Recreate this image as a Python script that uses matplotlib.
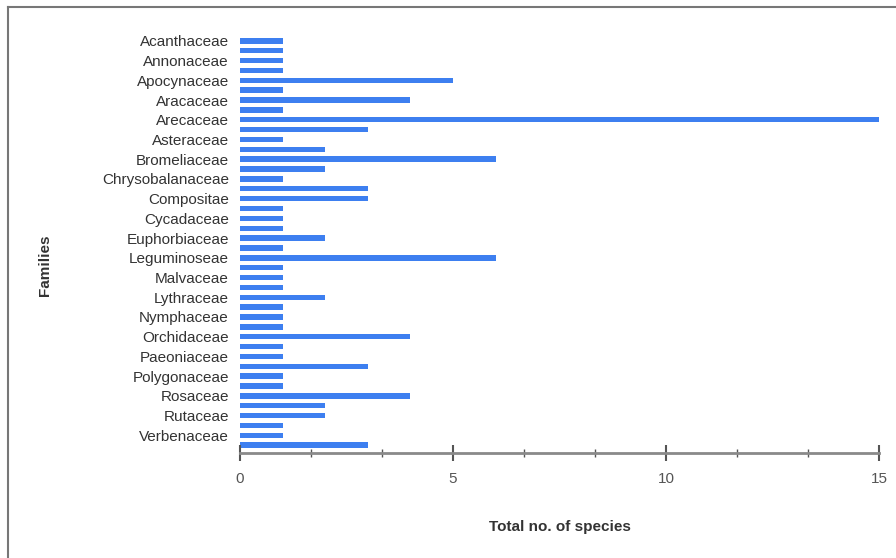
import matplotlib.pyplot as plt
from matplotlib.lines import Line2D
from matplotlib.ticker import MultipleLocator

# only every second family is labelled on the axis
FAMILIES = [
    "Acanthaceae", "Annonaceae", "Apocynaceae", "Aracaceae", "Arecaceae",
    "Asteraceae", "Bromeliaceae", "Chrysobalanaceae", "Compositae",
    "Cycadaceae", "Euphorbiaceae", "Leguminoseae", "Malvaceae", "Lythraceae",
    "Nymphaceae", "Orchidaceae", "Paeoniaceae", "Polygonaceae", "Rosaceae",
    "Rutaceae", "Verbenaceae",
]
SPECIES = [
    1, 1, 1, 1, 5, 1, 4, 1, 15, 3, 1, 2, 6, 2, 1, 3, 3, 1, 1, 1, 2,
    1, 6, 1, 1, 1, 2, 1, 1, 1, 4, 1, 1, 3, 1, 1, 4, 2, 2, 1, 1, 3,
]
XTICKS = [0, 5, 10, 15]

plt.rcParams["font.family"] = ["Liberation Sans", "DejaVu Sans"]

fig = plt.figure(figsize=(8.96, 5.58), dpi=100)
W, H = 896, 558
ax = fig.add_axes([240 / W, 1 - 453 / H, (879 - 240) / W, (453 - 33) / H])

pos = list(range(len(SPECIES)))
ax.barh(pos, SPECIES, height=0.55, color="#3d7ff0")
ax.set_ylim(len(SPECIES) - 1 + 0.8, -0.8)
ax.set_xlim(0, 15)

for side in ["top", "right", "left"]:
    ax.spines[side].set_visible(False)
ax.spines["bottom"].set_color("#8a8a8a")
ax.spines["bottom"].set_linewidth(2)

ax.set_yticks(pos[::2], FAMILIES)
ax.tick_params(axis="y", length=0, pad=8, labelsize=11, labelcolor="#333333")

ax.set_xticks(XTICKS, [str(t) for t in XTICKS])
ax.xaxis.set_minor_locator(MultipleLocator(5 / 3))
ax.tick_params(axis="x", which="major", direction="inout", length=12, width=1.5,
               color="#555555", labelsize=11, labelcolor="#555555", pad=8)
ax.tick_params(axis="x", which="minor", direction="inout", length=6, width=1,
               color="#555555")

ax.set_xlabel("Total no. of species", fontsize=11, fontweight="bold",
              color="#333333", labelpad=24)
fig.text(45 / W, 1 - 265 / H, "Families", rotation=90, fontsize=11,
         fontweight="bold", color="#333333", ha="center", va="center")

# outer frame on top and left
fig.add_artist(Line2D([7.5 / W, 7.5 / W], [0, 1 - 6.5 / H],
                      transform=fig.transFigure, color="#777777", lw=1.5))
fig.add_artist(Line2D([7.5 / W, 1], [1 - 6.5 / H, 1 - 6.5 / H],
                      transform=fig.transFigure, color="#777777", lw=1.5))

fig.savefig("out.png", dpi=100)
